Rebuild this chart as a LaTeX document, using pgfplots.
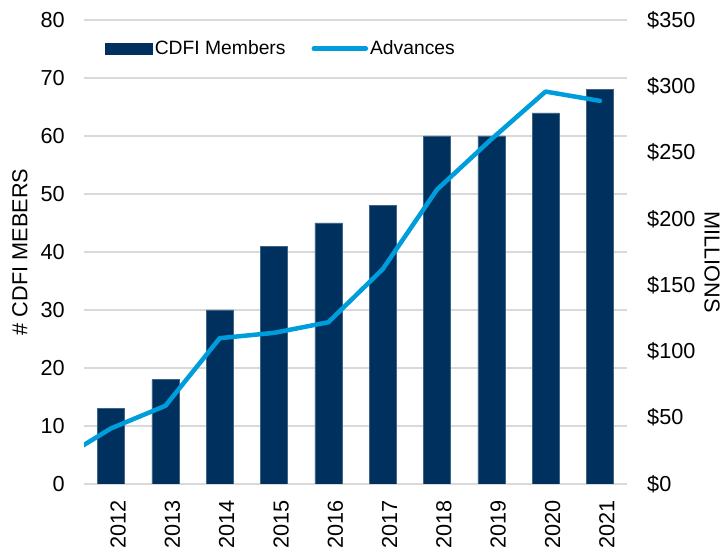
\documentclass[border=0pt]{standalone}
\usepackage{fontspec}
\setmainfont{Liberation Sans}
\usepackage{pgfplots}
\pgfplotsset{compat=1.18}
\definecolor{barc}{RGB}{0,48,94}
\definecolor{linec}{RGB}{0,157,220}
\definecolor{gridc}{RGB}{217,217,217}
\begin{document}
\fontsize{21.7}{26}\selectfont
\begin{tikzpicture}
\pgfplotsset{
  every axis/.append style={scale only axis, width=543pt, height=464pt,
    xmin=-0.5, xmax=9.5, axis line style={draw=none}, major tick length=0pt,
    /pgf/number format/assume math mode=true,
    tick label style={font=\fontsize{21.7}{26}\selectfont},
    label style={font=\fontsize{21.7}{26}\selectfont}},
}
\begin{axis}[name=ax, ymin=0, ymax=80, ytick={0,10,...,80},
  ymajorgrids, grid style={gridc, line width=1.3pt},
  xtick={0,...,9}, xticklabels={2012,2013,2014,2015,2016,2017,2018,2019,2020,2021},
  xticklabel style={yshift=-16pt, rotate=90, anchor=east, inner sep=0pt, yshift=-7pt},
  yticklabel style={anchor=east, inner sep=0pt, xshift=-19pt},
  ylabel={\# CDFI MEBERS},
  every axis y label/.style={at={(axis description cs:0,0.5)}, xshift=-64pt, rotate=90, anchor=center},
  ybar, bar width=27pt]
\addplot[fill=barc, draw=barc!75!white, line width=0.5pt] coordinates {
(0,13) (1,18) (2,30) (3,41) (4,45) (5,48) (6,60) (7,60) (8,64) (9,68)};
\end{axis}
\begin{axis}[ymin=0, ymax=350, ytick={0,50,...,350}, axis y line*=right,
  hide x axis,
  yticklabel={\$\pgfmathprintnumber{\tick}},
  yticklabel style={anchor=west, inner sep=0pt, xshift=20pt},
  ylabel={MILLIONS},
  every axis y label/.style={at={(axis description cs:1,0.5)}, xshift=85pt, yshift=-10pt, rotate=-90, anchor=center},
  legend style={at={(axis description cs:0.039,0.938)}, anchor=west, draw=none, fill=none,
    inner sep=0pt, font=\fontsize{19.3}{23}\selectfont,
    nodes={inner sep=2pt},
    /tikz/every even column/.append style={column sep=24pt}},
  legend columns=2, legend cell align=left]
\addlegendimage{legend image code/.code={\fill[barc] (0pt,-5.5pt) rectangle (47pt,5.5pt);}}
\addlegendentry{CDFI Members}
\addplot[linec, line width=4.5pt, line join=round, line cap=round,
  legend image code/.code={\draw[linec, line width=4.5pt, line cap=round] (0pt,0pt) -- (52pt,0pt);}] coordinates {
(-1,17) (0,42) (1,59) (2,110) (3,114) (4,122) (5,162) (6,222) (7,260) (8,296) (9,289)};
\addlegendentry{Advances}
\end{axis}
\pgfresetboundingbox
\path ([shift={(-84pt,-64pt)}]ax.south west) rectangle ([shift={(100pt,20pt)}]ax.north east);
\end{tikzpicture}
\end{document}
